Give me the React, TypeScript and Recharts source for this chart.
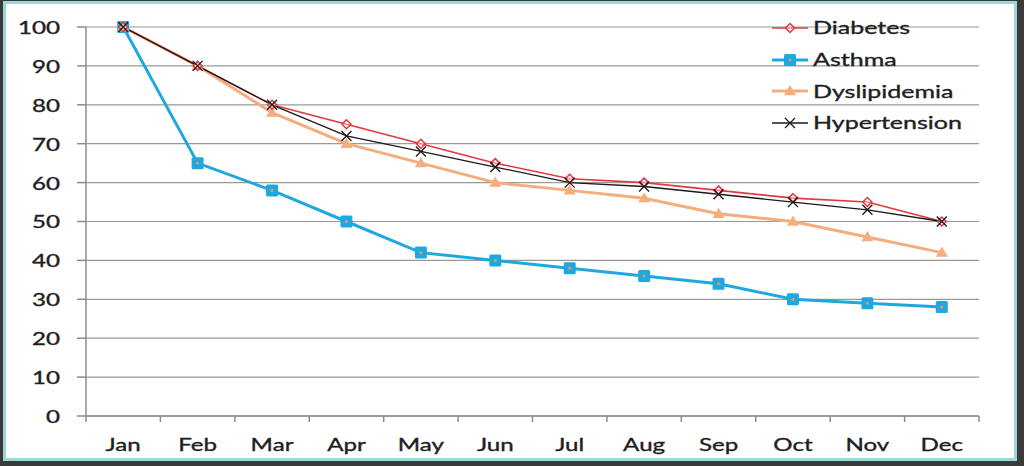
import { LineChart, Line, XAxis, YAxis, CartesianGrid } from 'recharts'

const months = ['Jan', 'Feb', 'Mar', 'Apr', 'May', 'Jun', 'Jul', 'Aug', 'Sep', 'Oct', 'Nov', 'Dec']
const diabetes = [100, 90, 80, 75, 70, 65, 61, 60, 58, 56, 55, 50]
const asthma = [100, 65, 58, 50, 42, 40, 38, 36, 34, 30, 29, 28]
const dyslipidemia = [100, 90, 78, 70, 65, 60, 58, 56, 52, 50, 46, 42]
const hypertension = [100, 90, 80, 72, 68, 64, 60, 59, 57, 55, 53, 50]
const yTicks = [0, 10, 20, 30, 40, 50, 60, 70, 80, 90, 100]

const data = months.map((m, i) => ({
  month: m,
  diabetes: diabetes[i],
  asthma: asthma[i],
  dyslipidemia: dyslipidemia[i],
  hypertension: hypertension[i],
}))

const RED = '#e2383f'
const BLUE = '#1fa8e0'
const PEACH = '#f5ad7e'
const BLACK = '#1a1a1a'
const AXIS = '#8c8c8c'
const TEXT = '#1f1f1f'
const FONT = 'Lato, "Open Sans", sans-serif'
const STRETCH = 1.42 // the source image text is wide
const HALF_BAND = 37.2

// markers
const diamond = (c: string) => (p: any) => {
  if (p.cx == null) return <g key={p.index} />
  const s = 4.5
  return (
    <path key={p.index} d={`M${p.cx},${p.cy - s}L${p.cx + s},${p.cy}L${p.cx},${p.cy + s}L${p.cx - s},${p.cy}Z`}
      fill="#fff" fillOpacity={0.4} stroke={c} strokeWidth={1.5} />
  )
}
const square = (p: any) => {
  if (p.cx == null) return <g key={p.index} />
  return (
    <g key={p.index}>
      <rect x={p.cx - 6} y={p.cy - 6} width={12} height={12} rx={1.5} fill={BLUE} />
      <circle cx={p.cx} cy={p.cy} r={1.6} fill="#d49a6a" />
    </g>
  )
}
const triangle = (p: any) => {
  if (p.cx == null) return <g key={p.index} />
  const s = 6
  return <path key={p.index} d={`M${p.cx},${p.cy - s}L${p.cx + s},${p.cy + s * 0.7}L${p.cx - s},${p.cy + s * 0.7}Z`} fill={PEACH} />
}
const cross = (p: any) => {
  if (p.cx == null) return <g key={p.index} />
  const s = 5
  return (
    <path key={p.index} d={`M${p.cx - s},${p.cy - s}L${p.cx + s},${p.cy + s}M${p.cx - s},${p.cy + s}L${p.cx + s},${p.cy - s}`}
      stroke={BLACK} strokeWidth={1.3} />
  )
}

const XTick = (props: any) => {
  const { x, y, payload, index, visibleTicksCount } = props
  const ty = y + 28
  return (
    <g>
      <line x1={x - HALF_BAND} x2={x - HALF_BAND} y1={y} y2={y + 6} stroke={AXIS} strokeWidth={1.5} />
      {index === visibleTicksCount - 1 && (
        <line x1={x + HALF_BAND} x2={x + HALF_BAND} y1={y} y2={y + 6} stroke={AXIS} strokeWidth={1.5} />
      )}
      <text x={x} y={ty} textAnchor="middle" dominantBaseline="central" fontSize={17} fill={TEXT} stroke={TEXT} strokeWidth={0.35}
        fontFamily={FONT} transform={`translate(${x},${ty}) scale(${STRETCH},1) translate(${-x},${-ty})`}>
        {payload.value}
      </text>
    </g>
  )
}

const YTick = (props: any) => {
  const { x, y, payload } = props
  return (
    <text x={x} y={y} textAnchor="end" dominantBaseline="central" fontSize={17} fill={TEXT} stroke={TEXT} strokeWidth={0.35}
      fontFamily={FONT} transform={`translate(${x},${y}) scale(${STRETCH},1) translate(${-x},${-y})`}>
      {payload.value}
    </text>
  )
}

const legendItems = [
  { label: 'Diabetes', color: RED, width: 1.5, marker: 'diamond' },
  { label: 'Asthma', color: BLUE, width: 3, marker: 'square' },
  { label: 'Dyslipidemia', color: PEACH, width: 3, marker: 'triangle' },
  { label: 'Hypertension', color: BLACK, width: 1.3, marker: 'cross' },
]

const LegendBox = () => (
  <div style={{ position: 'absolute', left: 772, top: 12, width: 240, fontFamily: FONT, fontSize: 17, color: TEXT }}>
    {legendItems.map(it => (
      <div key={it.label} style={{ display: 'flex', alignItems: 'center', height: 31.7 }}>
        <svg width={36} height={16} style={{ marginRight: 5 }}>
          <line x1={0} x2={36} y1={8} y2={8} stroke={it.color} strokeWidth={it.width} />
          {it.marker === 'diamond' && diamond(RED)({ cx: 18, cy: 8, index: 0 })}
          {it.marker === 'square' && square({ cx: 18, cy: 8, index: 0 })}
          {it.marker === 'triangle' && triangle({ cx: 18, cy: 8, index: 0 })}
          {it.marker === 'cross' && cross({ cx: 18, cy: 8, index: 0 })}
        </svg>
        <span style={{
          lineHeight: 1, display: 'inline-block', transform: 'scaleX(1.47)', transformOrigin: 'left center',
          WebkitTextStroke: `0.35px ${TEXT}`,
        }}>
          {it.label}
        </span>
      </div>
    ))}
  </div>
)

export default function App() {
  return (
    <div style={{ position: 'absolute', left: 0, top: 0, width: 1024, height: 466, background: '#3a3a3a', fontFamily: FONT }}>
      <div style={{ position: 'absolute', left: 3, top: 1, width: 1008, height: 454, border: '3px solid #9fd4da', background: '#fff' }} />
      <div style={{ position: 'absolute', left: 0, top: 0 }}>
        <LineChart width={1024} height={466} data={data} margin={{ top: 27, right: 45, bottom: 20, left: 0 }}>
          <CartesianGrid vertical={false} stroke="#9a9a9a" strokeWidth={1.2} />
          <XAxis dataKey="month" height={30} tickSize={0} tickMargin={0} tick={<XTick />} stroke={AXIS} strokeWidth={1.5}
            interval={0} padding={{ left: HALF_BAND, right: HALF_BAND }} />
          <YAxis domain={[0, 100]} ticks={yTicks} width={86} tickSize={9} tickMargin={17} stroke={AXIS} strokeWidth={1.5}
            tick={<YTick />} interval={0} />
          <Line dataKey="asthma" stroke={BLUE} strokeWidth={3} dot={square} isAnimationActive={false} />
          <Line dataKey="dyslipidemia" stroke={PEACH} strokeWidth={3} dot={triangle} isAnimationActive={false} />
          <Line dataKey="diabetes" stroke={RED} strokeWidth={1.6} dot={diamond(RED)} isAnimationActive={false} />
          <Line dataKey="hypertension" stroke={BLACK} strokeWidth={1.3} dot={cross} isAnimationActive={false} />
        </LineChart>
      </div>
      <LegendBox />
    </div>
  )
}
